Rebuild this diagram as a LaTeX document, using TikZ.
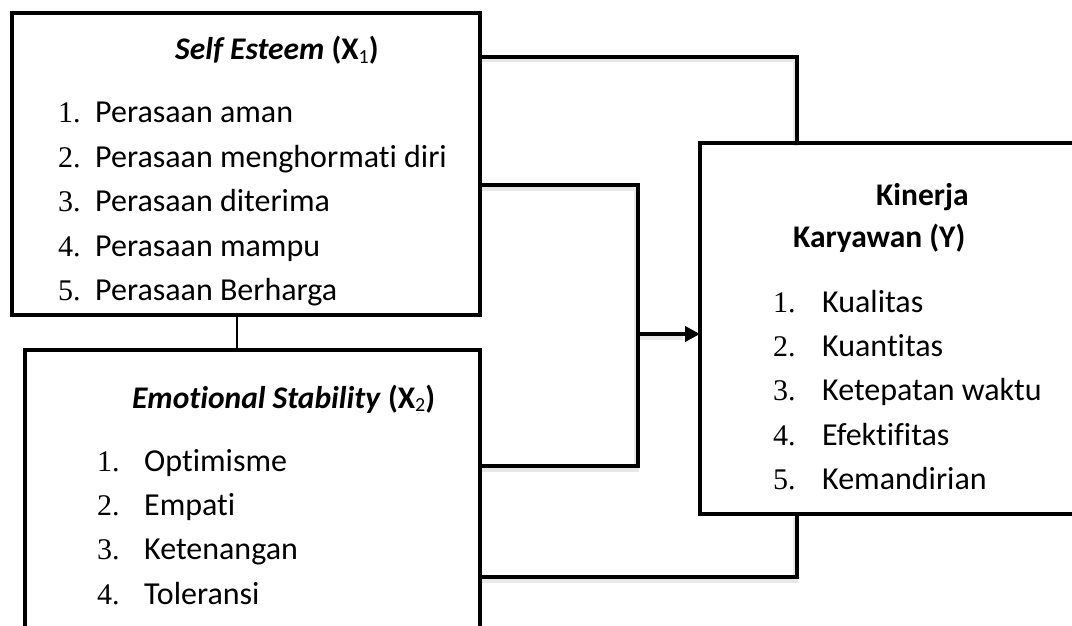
\documentclass[tikz,border=0pt]{standalone}
\usepackage{fontspec}
\setmainfont{Carlito}[Ligatures=NoCommon]
\newfontfamily\numfont{Liberation Serif}
\usetikzlibrary{arrows.meta}
\newcommand{\subidx}[1]{\raisebox{-3pt}{\fontsize{20}{20}\selectfont\mdseries\upshape #1}}
\tikzset{
  box/.style={draw, line width=4pt, minimum width=#1, anchor=north west, inner sep=0pt, outer sep=0pt},
  conn/.style={line width=4pt, line join=miter},
  shade/.style={line width=5pt, draw=black!9, line join=miter, transform canvas={xshift=-2pt, yshift=-3pt}},
  thinconn/.style={line width=1.5pt},
  txt/.style={anchor=base west, inner sep=0pt, font=\fontsize{32}{38}\selectfont},
  num/.style={anchor=base west, inner sep=0pt, font=\fontsize{30}{36}\selectfont\numfont},
  ttl/.style={anchor=base west, inner sep=0pt, font=\fontsize{31.5}{38}\selectfont\bfseries}
}
\begin{document}
\begin{tikzpicture}[x=1pt,y=-1pt]
\useasboundingbox (0,0) rectangle (1072,626);
\clip (0,0) rectangle (1072,626);
\fill[white] (0,0) rectangle (1072,626);
% junction coordinates
\coordinate (j1) at (797,57);
\coordinate (j2) at (638,185);
\coordinate (j3) at (638,466);
\coordinate (j4) at (638,334);
\coordinate (j5) at (797,577);
\coordinate (t) at (237,0);
% boxes
\node[box=468.5pt, minimum height=301.5pt] (b1) at (11.5,13) {};
\node[box=455pt, minimum height=300pt] (b2) at (25,350) {};
\node[box=390pt, minimum height=371pt] (by) at (700,143) {};
% shadows
\draw[shade] (b1.east |- j1) -| (by.north -| j1);
\draw[shade] (b1.east |- j2) -- (j2) -- (j3) -- (b2.east |- j3);
\draw[shade] (j4) -- ([xshift=-15pt]by.west |- j4);
\draw[shade] (b2.east |- j5) -| (by.south -| j5);
% connectors
\draw[thinconn] (t |- b1.south) -- (t |- b2.north);
\draw[conn] (b1.east |- j1) -| (by.north -| j1);
\draw[conn] (b1.east |- j2) -- (j2) -- (j3) -- (b2.east |- j3);
\draw[conn, -{Triangle[length=15pt,width=15pt]}] (j4) -- (by.west |- j4);
\draw[conn] (b2.east |- j5) -| (by.south -| j5);
% redraw box borders over shadows
\draw[line width=4pt] (b1.north west) rectangle (b1.south east);
\draw[line width=4pt] (b2.north west) rectangle (b2.south east);
\draw[line width=4pt] (by.north west) rectangle (by.south east);
% box 1 text
\node[ttl] (h1) at (175,60) {\itshape Self Esteem\/ \upshape(X\subidx{1})};
\node[num] (n11) at (58,122.5) {1.};
\node[txt] (t11) at (95,122.5) {Perasaan aman};
\node[num] (n12) at (58,167) {2.};
\node[txt] (t12) at (95,167) {Perasaan menghormati diri};
\node[num] (n13) at (58,211.5) {3.};
\node[txt] (t13) at (95,211.5) {Perasaan diterima};
\node[num] (n14) at (58,256) {4.};
\node[txt] (t14) at (95,256) {Perasaan mampu};
\node[num] (n15) at (58,300) {5.};
\node[txt] (t15) at (95,300) {Perasaan Berharga};
% box 2 text
\node[ttl] (h2) at (132,408) {\itshape Emotional Stability\/ \upshape(X\subidx{2})};
\node[num] (n21) at (97,471) {1.};
\node[txt] (t21) at (144,471) {Optimisme};
\node[num] (n22) at (97,515) {2.};
\node[txt] (t22) at (144,515) {Empati};
\node[num] (n23) at (97,559) {3.};
\node[txt] (t23) at (144,559) {Ketenangan};
\node[num] (n24) at (97,604) {4.};
\node[txt] (t24) at (144,604) {Toleransi};
% box Y text
\node[ttl] (hy1) at (876,205) {Kinerja};
\node[ttl] (hy2) at (793,247) {Karyawan (Y)};
\node[num] (ny1) at (773,312) {1.};
\node[txt] (ty1) at (822,312) {Kualitas};
\node[num] (ny2) at (773,356) {2.};
\node[txt] (ty2) at (822,356) {Kuantitas};
\node[num] (ny3) at (773,400) {3.};
\node[txt] (ty3) at (822,400) {Ketepatan waktu};
\node[num] (ny4) at (773,445) {4.};
\node[txt] (ty4) at (822,445) {Efektifitas};
\node[num] (ny5) at (773,489) {5.};
\node[txt] (ty5) at (822,489) {Kemandirian};
\end{tikzpicture}
\end{document}
